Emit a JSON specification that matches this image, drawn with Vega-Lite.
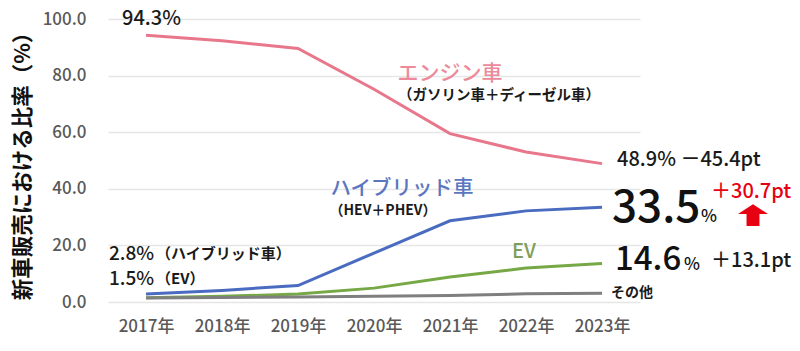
{
  "$schema": "https://vega.github.io/schema/vega-lite/v6.json",
  "width": 532,
  "height": 283,
  "autosize": "none",
  "padding": {"left": 108, "top": 19, "right": 160, "bottom": 49},
  "background": "white",
  "config": {
    "view": {"stroke": null},
    "text": {"font": "Noto Sans CJK JP"},
    "axis": {"labelFont": "Noto Sans CJK JP", "titleFont": "Noto Sans CJK JP"}
  },
  "encoding": {
    "x": {
      "field": "year", "type": "nominal",
      "scale": {"type": "point", "padding": 0.5, "domain": ["2017年","2018年","2019年","2020年","2021年","2022年","2023年"]},
      "axis": {"title": null, "labelAngle": 0, "domain": false, "ticks": false, "grid": false, "labelFontSize": 17, "labelFontWeight": 500, "labelColor": "#595959", "labelPadding": 16}
    },
    "y": {
      "field": "value", "type": "quantitative",
      "scale": {"domain": [0, 100]},
      "axis": {"title": "新車販売における比率（%）", "titleFontSize": 21.5, "titleFontWeight": "bold", "titleColor": "#111111", "titlePadding": 8,
        "values": [0, 20, 40, 60, 80, 100], "format": ".1f", "domain": false, "ticks": false, "labelFontSize": 17, "labelFontWeight": 500, "labelColor": "#595959", "labelPadding": 22, "gridColor": "#e6e6e6", "gridWidth": 1.5}
    }
  },
  "layer": [
    {
      "data": {"values": [
        {"year": "2017年", "type": "エンジン車", "value": 94.3},
        {"year": "2018年", "type": "エンジン車", "value": 92.3},
        {"year": "2019年", "type": "エンジン車", "value": 89.6},
        {"year": "2020年", "type": "エンジン車", "value": 75.2},
        {"year": "2021年", "type": "エンジン車", "value": 59.5},
        {"year": "2022年", "type": "エンジン車", "value": 53.0},
        {"year": "2023年", "type": "エンジン車", "value": 48.9},
        {"year": "2017年", "type": "ハイブリッド車", "value": 2.8},
        {"year": "2018年", "type": "ハイブリッド車", "value": 4.1},
        {"year": "2019年", "type": "ハイブリッド車", "value": 5.8},
        {"year": "2020年", "type": "ハイブリッド車", "value": 17.3},
        {"year": "2021年", "type": "ハイブリッド車", "value": 28.7},
        {"year": "2022年", "type": "ハイブリッド車", "value": 32.2},
        {"year": "2023年", "type": "ハイブリッド車", "value": 33.5},
        {"year": "2017年", "type": "EV", "value": 1.5},
        {"year": "2018年", "type": "EV", "value": 2.0},
        {"year": "2019年", "type": "EV", "value": 2.8},
        {"year": "2020年", "type": "EV", "value": 4.9},
        {"year": "2021年", "type": "EV", "value": 8.8},
        {"year": "2022年", "type": "EV", "value": 12.0},
        {"year": "2023年", "type": "EV", "value": 13.6},
        {"year": "2017年", "type": "その他", "value": 1.4},
        {"year": "2018年", "type": "その他", "value": 1.6},
        {"year": "2019年", "type": "その他", "value": 1.8},
        {"year": "2020年", "type": "その他", "value": 2.0},
        {"year": "2021年", "type": "その他", "value": 2.3},
        {"year": "2022年", "type": "その他", "value": 2.9},
        {"year": "2023年", "type": "その他", "value": 3.1}
      ]},
      "mark": {"type": "line", "strokeWidth": 3},
      "encoding": {
        "color": {"field": "type", "type": "nominal", "legend": null,
          "scale": {"domain": ["エンジン車", "ハイブリッド車", "EV", "その他"], "range": ["#e8778c", "#4a6cc0", "#76a845", "#7f7f7f"]}},
        "order": {"field": "type"}
      }
    },
    {
      "data": {"values": [
        {"year": "2017年", "value": 100, "label": "94.3%"}
      ]},
      "mark": {"type": "text", "align": "left", "baseline": "middle", "fontSize": 20, "fontWeight": 500, "color": "#1a1a1a", "dx": -24},
      "encoding": {"text": {"field": "label"}}
    },
    {
      "data": {"values": [
        {"year": "2023年", "value": 50.2, "label": "48.9%  －45.4pt"}
      ]},
      "mark": {"type": "text", "align": "left", "baseline": "middle", "fontSize": 20, "fontWeight": 500, "color": "#1a1a1a", "dx": 15},
      "encoding": {"text": {"field": "label"}}
    },
    {
      "data": {"values": [
        {"year": "2017年", "value": 16.96, "label": "2.8%"},
        {"year": "2017年", "value": 8.1, "label": "1.5%"}
      ]},
      "mark": {"type": "text", "align": "left", "baseline": "middle", "fontSize": 19, "fontWeight": 500, "color": "#1a1a1a", "dx": -37},
      "encoding": {"text": {"field": "label"}}
    },
    {
      "data": {"values": [
        {"year": "2023年", "value": 14.5, "label": "＋13.1pt"}
      ]},
      "mark": {"type": "text", "align": "left", "baseline": "middle", "fontSize": 20, "fontWeight": 500, "color": "#1a1a1a", "dx": 109},
      "encoding": {"text": {"field": "label"}}
    },
    {
      "data": {"values": [
        {"year": "2023年", "value": 38.9, "label": "＋30.7pt"}
      ]},
      "mark": {"type": "text", "align": "left", "baseline": "middle", "fontSize": 20, "fontWeight": 500, "color": "#e60012", "dx": 109},
      "encoding": {"text": {"field": "label"}}
    },
    {
      "data": {"values": [
        {"year": "2023年", "value": 30.7}
      ]},
      "mark": {"type": "point", "filled": true, "color": "#e60012", "opacity": 1, "size": 900, "xOffset": 151,
        "shape": "M0,-0.73 L1,-0.07 L0.43,-0.07 L0.43,0.73 L-0.43,0.73 L-0.43,-0.07 L-1,-0.07 Z"}
    },
    {
      "data": {"values": [
        {"year": "2017年", "value": 16.96, "label": "（ハイブリッド車）"},
        {"year": "2017年", "value": 8.1, "label": "（EV）"}
      ]},
      "mark": {"type": "text", "align": "left", "baseline": "middle", "fontSize": 15, "fontWeight": "bold", "color": "#1a1a1a", "dx": 10},
      "encoding": {"text": {"field": "label"}}
    },
    {
      "data": {"values": [
        {"year": "2023年", "value": 3.2, "label": "その他"}
      ]},
      "mark": {"type": "text", "align": "left", "baseline": "middle", "fontSize": 14, "fontWeight": "bold", "color": "#1a1a1a", "dx": 9},
      "encoding": {"text": {"field": "label"}}
    },
    {
      "data": {"values": [
        {"year": "2021年", "value": 72.8, "label": "（ガソリン車＋ディーゼル車）"}
      ]},
      "mark": {"type": "text", "align": "center", "baseline": "middle", "fontSize": 14.5, "fontWeight": "bold", "color": "#1a1a1a", "dx": 49},
      "encoding": {"text": {"field": "label"}}
    },
    {
      "data": {"values": [
        {"year": "2020年", "value": 32.1, "label": "（HEV＋PHEV）"}
      ]},
      "mark": {"type": "text", "align": "center", "baseline": "middle", "fontSize": 14, "fontWeight": "bold", "color": "#1a1a1a", "dx": 9},
      "encoding": {"text": {"field": "label"}}
    },
    {
      "data": {"values": [
        {"year": "2021年", "value": 80.7, "label": "エンジン車"}
      ]},
      "mark": {"type": "text", "align": "center", "baseline": "middle", "fontSize": 21, "fontWeight": 500, "color": "#ec8a9c"},
      "encoding": {"text": {"field": "label"}}
    },
    {
      "data": {"values": [
        {"year": "2020年", "value": 40.0, "label": "ハイブリッド車"}
      ]},
      "mark": {"type": "text", "align": "center", "baseline": "middle", "fontSize": 20.5, "fontWeight": 500, "color": "#5b76c0", "dx": 28},
      "encoding": {"text": {"field": "label"}}
    },
    {
      "data": {"values": [
        {"year": "2022年", "value": 17.7, "label": "EV"}
      ]},
      "mark": {"type": "text", "align": "center", "baseline": "middle", "fontSize": 20, "fontWeight": 500, "color": "#7f9e5b", "dx": -2},
      "encoding": {"text": {"field": "label"}}
    },
    {
      "data": {"values": [
        {"year": "2023年", "value": 28.3, "label": "33.5"}
      ]},
      "mark": {"type": "text", "align": "left", "baseline": "alphabetic", "fontSize": 44, "fontWeight": 500, "color": "#111111", "dx": 10},
      "encoding": {"text": {"field": "label"}}
    },
    {
      "data": {"values": [
        {"year": "2023年", "value": 11.3, "label": "14.6"}
      ]},
      "mark": {"type": "text", "align": "left", "baseline": "alphabetic", "fontSize": 33, "fontWeight": 500, "color": "#111111", "dx": 13},
      "encoding": {"text": {"field": "label"}}
    },
    {
      "data": {"values": [
        {"year": "2023年", "value": 28.3, "label": "%"}
      ]},
      "mark": {"type": "text", "align": "left", "baseline": "alphabetic", "fontSize": 17, "fontWeight": 500, "color": "#111111", "dx": 99},
      "encoding": {"text": {"field": "label"}}
    },
    {
      "data": {"values": [
        {"year": "2023年", "value": 11.3, "label": "%"}
      ]},
      "mark": {"type": "text", "align": "left", "baseline": "alphabetic", "fontSize": 17, "fontWeight": 500, "color": "#111111", "dx": 82},
      "encoding": {"text": {"field": "label"}}
    }
  ]
}
